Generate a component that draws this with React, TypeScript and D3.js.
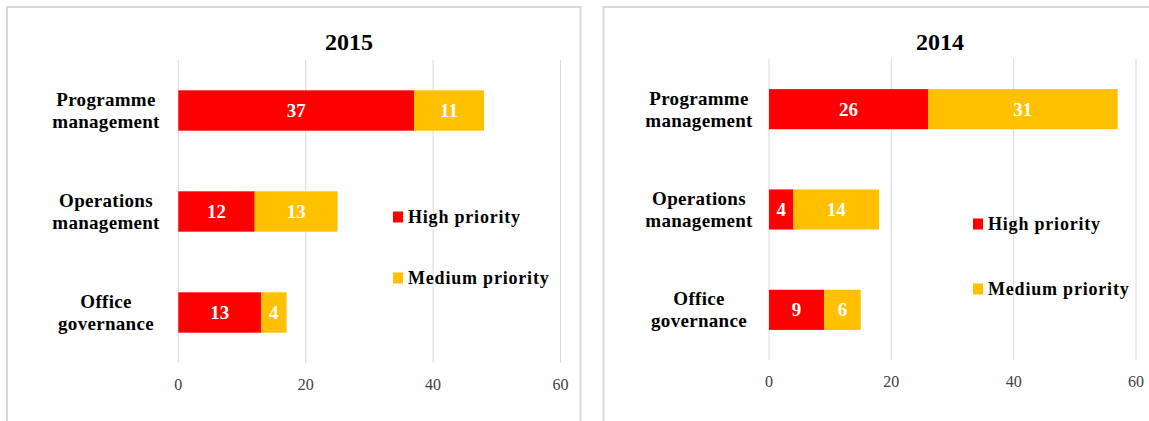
import React from "react";
import * as d3 from "d3";

const categories = ["Programme management", "Operations management", "Office governance"];
const categoryLines = [["Programme", "management"], ["Operations", "management"], ["Office", "governance"]];
const seriesNames = ["High priority", "Medium priority"];
const seriesColors = ["#FF0000", "#FFC000"];
const years = ["2015", "2014"];
const high2015 = [37, 12, 13];
const medium2015 = [11, 13, 4];
const high2014 = [26, 4, 9];
const medium2014 = [31, 14, 6];
const xTicks = [0, 20, 40, 60];
const xDomain = [0, 60];

const W = 1149;
const H = 421;
const FONT = "'Liberation Serif', 'Times New Roman', serif";

type PanelLayout = {
  box: [number, number, number, number];
  xRange: [number, number];
  yRange: [number, number];
  titleX: number;
  labelX: number;
  legendX: number;
  legendY: [number, number];
};

const layouts: PanelLayout[] = [
  { box: [7, 7, 573.5, 440], xRange: [178.3, 560.5], yRange: [60, 363], titleX: 349, labelX: 106, legendX: 393, legendY: [217, 278] },
  { box: [603.5, 7, 560, 440], xRange: [769, 1136], yRange: [59, 360], titleX: 940, labelX: 699, legendX: 973, legendY: [224, 289] },
];

const datasets = [
  [high2015, medium2015],
  [high2014, medium2014],
];

function Panel({ idx }: { idx: number }) {
  const L = layouts[idx];
  const [high, medium] = datasets[idx];
  const rows = categories.map((c, i) => ({ cat: c, "High priority": high[i], "Medium priority": medium[i] }));
  const stacked = d3.stack<any>().keys(seriesNames)(rows);
  const x = d3.scaleLinear().domain(xDomain).range(L.xRange);
  const y = d3.scaleBand<string>().domain(categories).range(L.yRange).paddingInner(0.6).paddingOuter(0.3);
  const [bx, by, bw, bh] = L.box;
  return (
    <g>
      <rect x={bx} y={by} width={bw} height={bh} fill="#fff" stroke="#d9d9d9" strokeWidth={2} />
      <text x={L.titleX} y={50} textAnchor="middle" fontFamily={FONT} fontWeight="bold" fontSize={24} fill="#000">
        {years[idx]}
      </text>
      {xTicks.map((t) => (
        <g key={t}>
          <line x1={x(t)} x2={x(t)} y1={L.yRange[0]} y2={L.yRange[1]} stroke="#d9d9d9" strokeWidth={1} />
          <text x={x(t)} y={L.yRange[1] + 27} textAnchor="middle" fontFamily={FONT} fontSize={16} fill="#404040">
            {t}
          </text>
        </g>
      ))}
      {stacked.map((s, si) => (
        <g key={s.key}>
          {s.map((d, i) => {
            const y0 = y(categories[i])!;
            const bwid = y.bandwidth();
            const x0 = x(d[0]);
            const x1 = x(d[1]);
            return (
              <g key={i}>
                <rect x={x0} y={y0} width={x1 - x0} height={bwid} fill={seriesColors[si]} />
                <text x={(x0 + x1) / 2} y={y0 + bwid / 2 + 6.5} textAnchor="middle" fontFamily={FONT} fontWeight="bold" fontSize={19} fill="#fff">
                  {d[1] - d[0]}
                </text>
              </g>
            );
          })}
        </g>
      ))}
      {categories.map((c, i) => {
        const cy = y(c)! + y.bandwidth() / 2;
        return (
          <text key={c} textAnchor="middle" fontFamily={FONT} fontWeight="bold" fontSize={19} fill="#000" letterSpacing={0.3}>
            <tspan x={L.labelX} y={cy - 4.5}>{categoryLines[i][0]}</tspan>
            <tspan x={L.labelX} y={cy + 17.5}>{categoryLines[i][1]}</tspan>
          </text>
        );
      })}
      {seriesNames.map((n, si) => (
        <g key={n}>
          <rect x={L.legendX} y={L.legendY[si] - 5.5} width={10} height={11} fill={seriesColors[si]} />
          <text x={L.legendX + 15} y={L.legendY[si] + 6} fontFamily={FONT} fontWeight="bold" fontSize={18} letterSpacing={0.8} fill="#000">
            {n}
          </text>
        </g>
      ))}
    </g>
  );
}

export default function App() {
  return (
    <svg width={W} height={H} style={{ position: "absolute", left: 0, top: 0, background: "#fff" }}>
      <rect x={0} y={0} width={W} height={H} fill="#fff" />
      <Panel idx={0} />
      <Panel idx={1} />
    </svg>
  );
}
